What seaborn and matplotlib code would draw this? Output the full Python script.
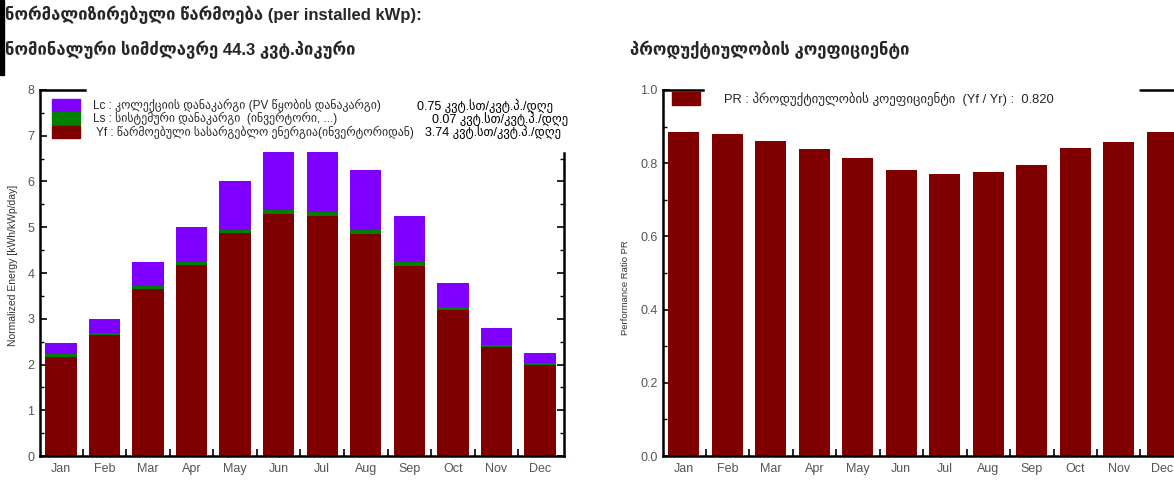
import matplotlib
matplotlib.use('Agg')
import numpy as np
import pandas as pd
import matplotlib.pyplot as plt
import seaborn as sns
from matplotlib.patches import Patch, Rectangle
from matplotlib.ticker import MultipleLocator, FixedLocator, FormatStrFormatter

months = ['Jan', 'Feb', 'Mar', 'Apr', 'May', 'Jun', 'Jul', 'Aug', 'Sep', 'Oct', 'Nov', 'Dec']
yf = [2.17, 2.64, 3.66, 4.17, 4.87, 5.29, 5.24, 4.86, 4.15, 3.20, 2.38, 2.00]
ls = [0.05, 0.05, 0.05, 0.08, 0.08, 0.09, 0.09, 0.09, 0.08, 0.06, 0.04, 0.04]
lc = [0.24, 0.31, 0.52, 0.75, 1.06, 1.27, 1.31, 1.31, 1.02, 0.53, 0.38, 0.22]
pr = [0.886, 0.881, 0.860, 0.838, 0.814, 0.782, 0.770, 0.776, 0.794, 0.841, 0.857, 0.886]

legend_labels = ['Lc : კოლექციის დანაკარგი (PV წყობის დანაკარგი)',
                 'Ls : სისტემური დანაკარგი  (ინვერტორი, ...)',
                 ' Yf : წარმოებული სასარგებლო ენერგია(ინვერტორიდან)']
legend_values = ['0.75 კვტ.სთ/კვტ.პ./დღე', '0.07 კვტ.სთ/კვტ.პ./დღე', '3.74 კვტ.სთ/კვტ.პ./დღე']
value_x = [0.719, 0.748, 0.735]
pr_label = 'PR : პროდუქტიულობის კოეფიციენტი  (Yf / Yr) :  0.820'

c_lc = '#8000ff'
c_ls = '#008000'
c_yf = '#800000'
tick_col = '#555555'

sns.set_theme(style='white')
plt.rcParams['font.family'] = ['Liberation Sans', 'DejaVu Sans']

df = pd.DataFrame({'month': months, 'yf': yf, 'ls': ls, 'lc': lc, 'pr': pr})
df['yf_ls'] = df['yf'] + df['ls']
df['total'] = df['yf_ls'] + df['lc']

fig = plt.figure(figsize=(11.74, 4.82), dpi=100)
ax1 = fig.add_axes([0.0341, 0.0539, 0.4463, 0.7594])
ax2 = fig.add_axes([0.5647, 0.0539, 0.4438, 0.7594])

# stacked bars: draw cumulative totals on top of each other
for col, c in [('total', c_lc), ('yf_ls', c_ls), ('yf', c_yf)]:
    sns.barplot(data=df, x='month', y=col, color=c, saturation=1, width=0.72,
                errorbar=None, edgecolor='none', ax=ax1)

sns.barplot(data=df, x='month', y='pr', color=c_yf, saturation=1, width=0.72,
            errorbar=None, edgecolor='none', ax=ax2)


def style(ax, ymax, major, minor, xmax):
    ax.set_ylim(0, ymax)
    ax.set_xlim(-0.48, xmax)
    ax.set_xlabel('')
    ax.yaxis.set_major_locator(MultipleLocator(major))
    ax.yaxis.set_minor_locator(MultipleLocator(minor))
    ax.xaxis.set_minor_locator(FixedLocator([i + 0.5 for i in range(11)]))
    ax.tick_params(axis='x', which='major', length=0, pad=5, labelsize=9, labelcolor=tick_col)
    ax.tick_params(axis='x', which='minor', bottom=True, direction='in', length=5, width=1.2, color='black')
    ax.tick_params(axis='y', which='major', left=True, direction='in', length=5, width=1.2,
                   color='black', labelsize=9, labelcolor=tick_col, pad=4)
    ax.tick_params(axis='y', which='minor', left=True, direction='in', length=3, width=1.0, color='black')
    for s in ax.spines.values():
        s.set_color('black')
        s.set_linewidth(1.8)


style(ax1, 8, 1, 0.5, 11.55)
style(ax2, 1.0, 0.2, 0.1, 11.5)
ax2.yaxis.set_major_formatter(FormatStrFormatter('%.1f'))

# left chart frame is broken by the legend block
ax1.spines['top'].set_bounds(-0.48, 0.55)
ax1.spines['right'].set_visible(False)
sec = ax1.secondary_yaxis('right')
sec.yaxis.set_major_locator(FixedLocator(range(0, 7)))
sec.yaxis.set_minor_locator(FixedLocator([i + 0.5 for i in range(7)]))
sec.tick_params(which='major', direction='in', length=5, width=1.2, color='black', labelright=False)
sec.tick_params(which='minor', direction='in', length=3, width=1.0, color='black')
sec.spines['right'].set_bounds(0, 6.63)
sec.spines['right'].set_linewidth(1.8)
sec.spines['right'].set_color('black')

ax2.spines['right'].set_visible(False)
ax2.spines['top'].set_bounds(-0.48, 0.45)
ax2.axhline(1.0, xmin=0.915, xmax=1.0, color='black', lw=1.8, clip_on=False)

ax1.set_ylabel('Normalized Energy [kWh/kWp/day]', fontsize=7.5, color='#333333')
ax1.yaxis.set_label_coords(-0.042, 0.52)
ax2.set_ylabel('Performance Ratio PR', fontsize=6.8, color='#333333')
ax2.yaxis.set_label_coords(-0.063, 0.46)

h1 = [Patch(color=c_lc), Patch(color=c_ls), Patch(color=c_yf)]
ax1.legend(h1, legend_labels, loc='upper left', bbox_to_anchor=(0.0229, 0.9754),
           frameon=False, fontsize=8.5, labelspacing=0, handleheight=1.2, handlelength=2.37,
           handletextpad=1.1, borderpad=0, borderaxespad=0)
for i, v in enumerate(legend_values):
    ax1.text(value_x[i], 0.957 - i * 0.036, v, transform=ax1.transAxes, fontsize=9,
             va='center', ha='left', color='black')

ax2.legend([Patch(color=c_yf)], [pr_label], loc='upper left', bbox_to_anchor=(0.0173, 0.995),
           frameon=False, fontsize=9.3, handleheight=1.1, handlelength=2.17,
           handletextpad=1.86, borderpad=0, borderaxespad=0)

fig.text(0.004, 0.969, 'ნორმალიზირებული წარმოება (per installed kWp):', fontsize=12,
         fontweight='bold', va='center', ha='left')
fig.text(0.004, 0.896, 'ნომინალური სიმძლავრე 44.3 კვტ.პიკური', fontsize=12,
         fontweight='bold', va='center', ha='left')
fig.text(0.5366, 0.896, 'პროდუქტიულობის კოეფიციენტი', fontsize=12,
         fontweight='bold', va='center', ha='left')

fig.patches.append(Rectangle((0, 1 - 75 / 482), 4 / 1174, 75 / 482, transform=fig.transFigure,
                             color='black', zorder=5))

fig.savefig('out.png', dpi=100)
